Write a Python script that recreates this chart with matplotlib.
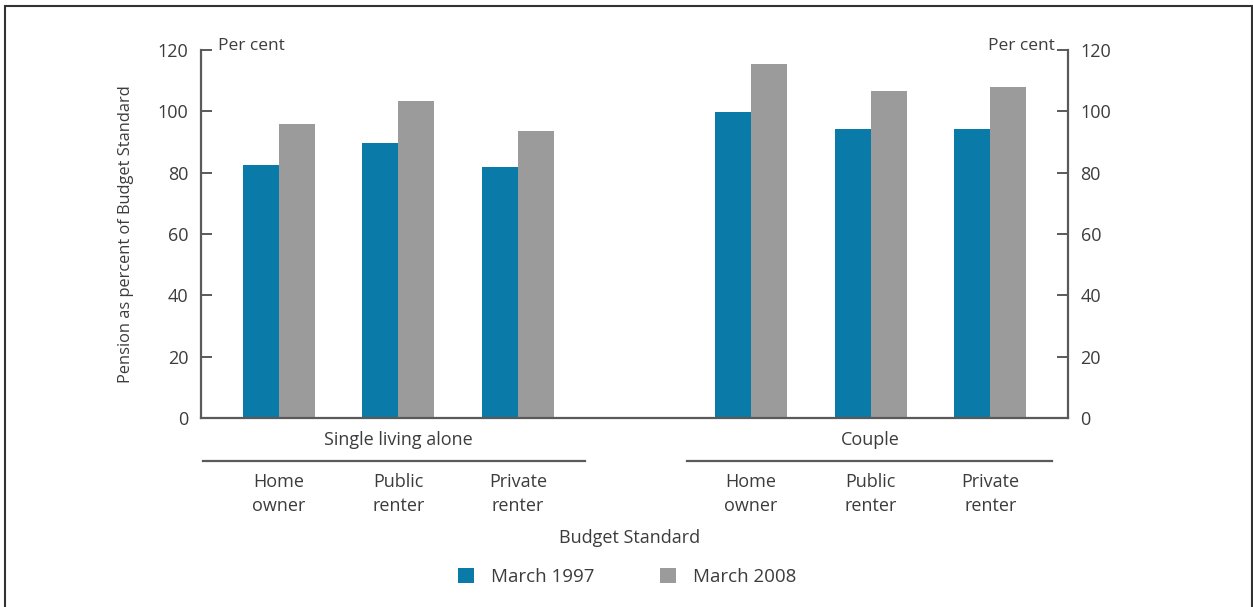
import matplotlib
matplotlib.use("Agg")
import matplotlib.pyplot as plt
from matplotlib.patches import Rectangle, Patch
from matplotlib.lines import Line2D
import matplotlib.transforms as mtransforms

plt.rcParams['font.family'] = ['Open Sans', 'DejaVu Sans']

groups = ["Single living alone", "Couple"]
categories = ["Home\nowner", "Public\nrenter", "Private\nrenter"]
series_names = ["March 1997", "March 2008"]
single_1997 = [82.5, 89.7, 81.8]
single_2008 = [95.9, 103.4, 93.6]
couple_1997 = [99.8, 94.2, 94.2]
couple_2008 = [115.4, 106.6, 107.9]
yticks = [0, 20, 40, 60, 80, 100, 120]

colors = ["#0a7ba8", "#9b9b9b"]
text_col = "#3c3c3c"
spine_col = "#5a5a5a"

W, H = 1253, 607
fig = plt.figure(figsize=(W / 100, H / 100), dpi=100)
ax = fig.add_axes([201 / W, 1 - 418 / H, (1068 - 201) / W, (418 - 50) / H])

group_starts = [0.0, 3.95]
bw = 0.30
data = [(single_1997, single_2008), (couple_1997, couple_2008)]
for gs, (v1, v2) in zip(group_starts, data):
    xs = [gs + i for i in range(len(categories))]
    ax.bar([x - bw / 2 for x in xs], v1, width=bw, color=colors[0], zorder=2)
    ax.bar([x + bw / 2 for x in xs], v2, width=bw, color=colors[1], zorder=2)

ax.set_xlim(-0.65, 6.6)
ax.set_ylim(0, 120)
ax.set_yticks(yticks)
ax.set_xticks([])
for s in ["left", "right", "bottom"]:
    ax.spines[s].set_color(spine_col)
    ax.spines[s].set_linewidth(1.6)
ax.spines["top"].set_visible(False)
ax.tick_params(axis='y', left=True, right=True, labelleft=True, labelright=True,
               direction='in', length=8, width=1.4, color=spine_col,
               labelsize=13, labelcolor=text_col, pad=9)

ax.set_ylabel("Pension as percent of Budget Standard", fontsize=11.8,
              color=text_col, labelpad=17)

ax.text((218 - 201) / 867, 1.0 + 4 / 368, "Per cent", transform=ax.transAxes,
        ha='left', va='center', fontsize=12.5, color=text_col)
ax.text((1055 - 201) / 867, 1.0 + 4 / 368, "Per cent", transform=ax.transAxes,
        ha='right', va='center', fontsize=12.5, color=text_col)

trans = mtransforms.blended_transform_factory(ax.transData, ax.transAxes)
line_ext = [(-1.63, 1.56), (-1.54, 1.52)]
for gs, gname, (l0, l1) in zip(group_starts, groups, line_ext):
    center = gs + 1
    ax.text(center, -22 / 368, gname, transform=trans, ha='center', va='center',
            fontsize=13, color=text_col)
    ax.add_line(Line2D([center + l0, center + l1], [-43 / 368, -43 / 368],
                       transform=trans, color=spine_col, lw=1.6, clip_on=False))
    for i, cat in enumerate(categories):
        ax.text(gs + i, -76 / 368, cat, transform=trans, ha='center', va='center',
                fontsize=13, color=text_col, linespacing=1.4)

ax.text(0.5 - 5 / 867, -120 / 368, "Budget Standard", transform=ax.transAxes,
        ha='center', va='center', fontsize=13, color=text_col)

handles = [Patch(facecolor=c, edgecolor='none') for c in colors]
fig.legend(handles, series_names, loc='center', bbox_to_anchor=(627 / W, 1 - 577 / H),
           ncol=2, frameon=False, fontsize=13.5, handlelength=0.85, handleheight=0.85,
           handletextpad=0.9, columnspacing=3.5, labelcolor=text_col)

fig.patches.append(Rectangle((5 / W, -0.05), (1251.5 - 5) / W, 1.05 - 6 / H,
                             transform=fig.transFigure, fill=False,
                             edgecolor="#333333", lw=1.5))

fig.savefig("out.png", dpi=100)
